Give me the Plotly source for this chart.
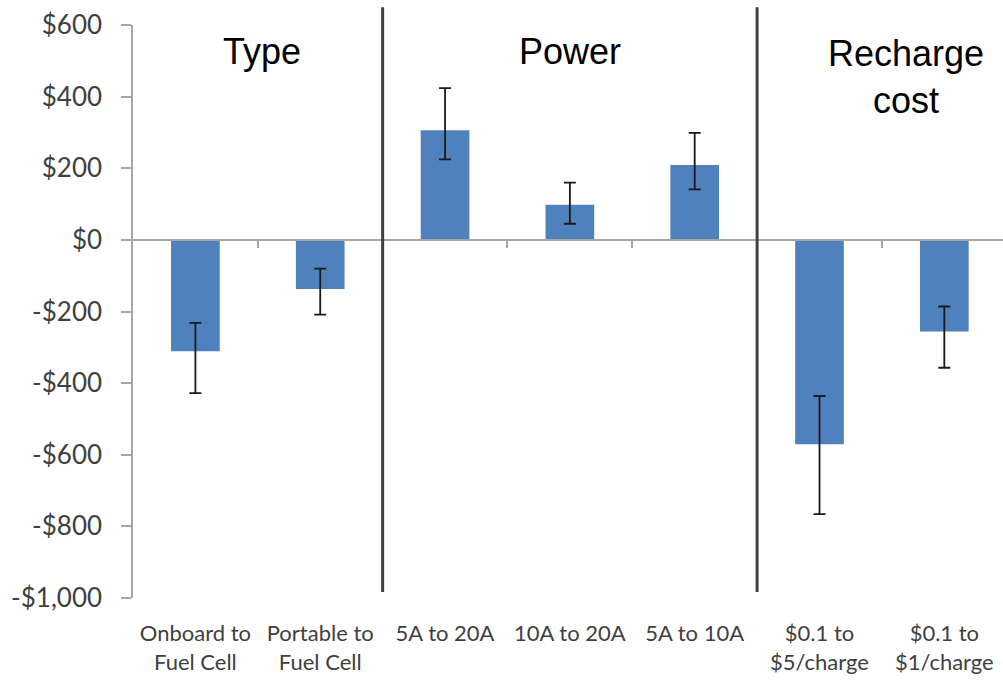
import plotly.graph_objects as go

categories = ["Onboard to<br>Fuel Cell", "Portable to<br>Fuel Cell", "5A to 20A", "10A to 20A",
              "5A to 10A", "$0.1 to<br>$5/charge", "$0.1 to<br>$1/charge"]
values = [-311, -137, 306, 98, 209, -571, -256]
err_high = [-232, -80, 424, 160, 299, -436, -186]
err_low = [-428, -209, 225, 45, 141, -766, -357]
groups = [("Type", 0, 1), ("Power", 2, 4), ("Recharge<br>cost", 5, 6)]
ytick_vals = [600, 400, 200, 0, -200, -400, -600, -800, -1000]
ytick_text = ["$600", "$400", "$200", "$0", "-$200", "-$400", "-$600", "-$800", "-$1,000"]

xpos = list(range(len(categories)))
err_plus = [h - v for h, v in zip(err_high, values)]
err_minus = [v - l for v, l in zip(values, err_low)]

fig = go.Figure()
fig.add_trace(go.Bar(
    x=xpos, y=values, width=0.39,
    marker=dict(color="#4F81BD", line=dict(width=0)),
    error_y=dict(type="data", symmetric=False, array=err_plus, arrayminus=err_minus,
                 color="#1a1a1a", thickness=1.8, width=6),
    showlegend=False,
))
# invisible trace on the boundary-tick axis
fig.add_trace(go.Scatter(x=[0], y=[0], xaxis="x2", mode="markers",
                         marker=dict(opacity=0), showlegend=False, hoverinfo="skip"))

xr = [-0.5, 6.47]
fig.update_layout(
    width=1003, height=682,
    margin=dict(l=133, r=0, t=25, b=84),
    plot_bgcolor="white", paper_bgcolor="white",
    bargap=0.6,
    xaxis=dict(range=xr, tickvals=xpos, ticktext=categories, showline=False, ticks="",
               showgrid=False, zeroline=False, ticklabelstandoff=20,
               tickfont=dict(family="Lato", size=22, color="#404040")),
    xaxis2=dict(range=xr, overlaying="x", anchor="free", position=0.625, side="bottom",
                showline=True, linecolor="#a6a6a6", linewidth=1.5,
                tickvals=[i + 0.5 for i in xpos[:-1]], ticks="outside", ticklen=7,
                tickcolor="#a6a6a6", tickwidth=1.5, showticklabels=False, showgrid=False,
                zeroline=False),
    yaxis=dict(range=[-1000, 600], tickvals=ytick_vals, ticktext=ytick_text,
               showline=True, linecolor="#a6a6a6", linewidth=1.5,
               ticks="outside", ticklen=10, tickcolor="#a6a6a6", tickwidth=1.5,
               showgrid=False, zeroline=False, ticklabelstandoff=14,
               tickfont=dict(family="Lato", size=26, color="#404040")),
)

# group dividers
for name, a, b in groups[:-1]:
    fig.add_shape(type="line", xref="x", yref="paper", x0=b + 0.5, x1=b + 0.5,
                  y0=0.0105, y1=1.031, line=dict(color="#404040", width=3))

title_x = [0.53, 3.0, 5.69]
title_y = [0.953, 0.953, 0.91]
for (name, a, b), tx, ty in zip(groups, title_x, title_y):
    fig.add_annotation(x=tx, y=ty, xref="x", yref="paper", text=name, showarrow=False,
                       font=dict(family="Liberation Sans", size=36, color="#000000"),
                       xanchor="center", yanchor="middle")

fig.write_html("out.html")
